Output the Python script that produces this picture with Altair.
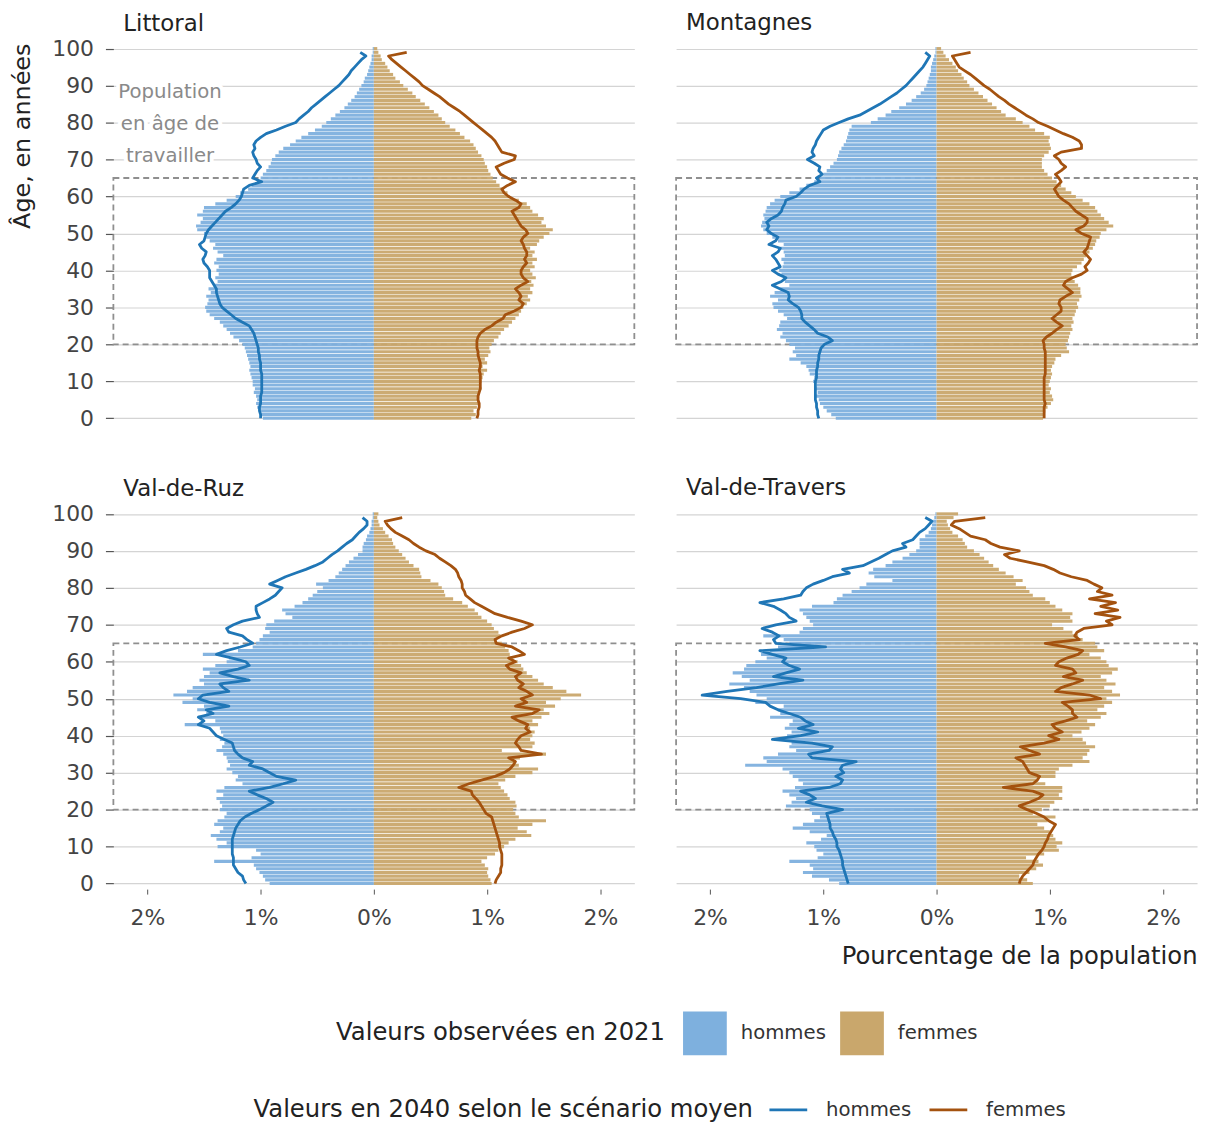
import altair as alt
import pandas as pd

FONT = "DejaVu Sans"

AGES = list(range(0, 101))
LINE_AGES = list(range(0, 100))
SEXES = ["hommes", "femmes"]
SEXES_2040 = ["hommes 2040", "femmes 2040"]
BAR_COLORS = ["#7eb0de", "#c9a76c"]
LINE_COLORS = ["#1f76b6", "#a4520f"]
WORK_AGE = [20, 65]
X_TICKS = [-2, -1, 0, 1, 2]
Y_TICKS = list(range(0, 101, 10))
X_DOMAIN = [-2.3, 2.3]
Y_DOMAIN = [-1.5, 101.5]
ANNOT_LINES = ["Population", "en âge de", "travailler"]
ANNOT_AGES = [88.2, 79.6, 71.0]
ANNOT_X = [-1.8, -1.8, -1.8]

# values in hundredths of a percent, ages 0..100 (bars) and 0..99 (lines)
LIT_M21 = [98, 100, 101, 103, 104, 103, 104, 106, 105, 107,
           107, 108, 109, 110, 109, 110, 111, 112, 113, 114,
           116, 119, 124, 127, 130, 133, 136, 141, 145, 148,
           149, 147, 146, 148, 144, 146, 141, 138, 140, 137,
           139, 137, 141, 139, 133, 138, 142, 140, 145, 148,
           150, 156, 157, 153, 151, 156, 151, 150, 140, 130,
           122, 118, 111, 108, 103, 100, 98, 95, 93, 91,
           90, 87, 84, 80, 74, 69, 64, 58, 52, 46,
           42, 38, 34, 30, 26, 23, 20, 17, 15, 13,
           11, 9, 8, 6, 5, 4, 3, 2, 2, 1, 1]
LIT_F21 = [86, 90, 88, 91, 92, 92, 93, 93, 95, 94,
           95, 96, 97, 100, 96, 100, 98, 101, 103, 102,
           104, 106, 110, 112, 115, 119, 122, 125, 128, 130,
           132, 135, 138, 136, 140, 138, 141, 139, 143, 140,
           138, 142, 140, 144, 140, 142, 138, 144, 146, 150,
           155, 158, 152, 148, 150, 145, 140, 138, 135, 128,
           120, 118, 115, 111, 108, 105, 103, 101, 100, 98,
           97, 95, 92, 90, 88, 85, 80, 76, 72, 67,
           63, 60, 57, 53, 49, 45, 41, 37, 34, 30,
           26, 23, 19, 17, 14, 12, 10, 7, 6, 4, 3]
LIT_M40 = [100, 100, 101, 101, 100, 100, 100, 99, 99, 99,
           99, 99, 99, 100, 100, 100, 101, 101, 102, 102,
           103, 104, 105, 106, 108, 110, 116, 122, 126, 130,
           134, 136, 137, 138, 139, 139, 141, 143, 145, 145,
           145, 147, 150, 151, 149, 148, 152, 154, 150, 149,
           148, 146, 143, 140, 137, 134, 131, 126, 122, 119,
           117, 116, 115, 110, 99, 107, 105, 103, 100, 103,
           104, 106, 107, 105, 106, 104, 100, 95, 86, 78,
           69, 66, 62, 58, 55, 51, 47, 43, 39, 35,
           31, 28, 25, 22, 20, 17, 14, 11, 7, 12]
LIT_F40 = [91, 92, 92, 93, 93, 92, 92, 93, 94, 94,
           94, 94, 94, 93, 94, 94, 93, 92, 92, 91,
           91, 91, 92, 94, 98, 104, 108, 114, 116, 124,
           130, 132, 128, 130, 128, 125, 130, 136, 132, 130,
           130, 132, 135, 133, 135, 135, 133, 132, 130, 132,
           136, 134, 130, 128, 126, 124, 122, 128, 130, 125,
           119, 115, 113, 118, 125, 118, 112, 110, 108, 115,
           124, 125, 113, 111, 109, 107, 104, 100, 96, 92,
           88, 84, 80, 76, 71, 66, 62, 58, 53, 48,
           43, 40, 36, 32, 28, 24, 20, 16, 13, 29]

MON_M21 = [89, 93, 97, 100, 103, 104, 107, 105, 107, 106,
           109, 108, 112, 113, 115, 120, 130, 124, 127, 125,
           130, 133, 138, 136, 141, 139, 138, 132, 135, 140,
           144, 145, 140, 147, 143, 138, 130, 134, 133, 137,
           139, 136, 135, 137, 134, 135, 138, 135, 140, 145,
           150, 153, 155, 154, 152, 153, 151, 150, 147, 143,
           138, 130, 121, 115, 108, 103, 100, 97, 94, 91,
           88, 87, 86, 84, 82, 80, 79, 78, 77, 75,
           58, 52, 45, 40, 33, 27, 22, 18, 14, 11,
           9, 8, 7, 6, 5, 5, 4, 3, 2, 1, 1]
MON_F21 = [94, 95, 96, 98, 101, 103, 102, 100, 101, 99,
           100, 101, 102, 101, 102, 104, 105, 110, 117, 115,
           114, 116, 117, 118, 120, 119, 121, 120, 122, 123,
           125, 124, 126, 128, 127, 127, 125, 122, 120, 119,
           120, 124, 128, 130, 132, 135, 138, 140, 141, 144,
           145, 150, 156, 152, 148, 145, 142, 140, 135, 129,
           123, 119, 114, 110, 106, 102, 98, 95, 93, 93,
           93, 95, 99, 101, 100, 99, 100, 95, 87, 82,
           76, 70, 61, 57, 53, 49, 45, 41, 37, 33,
           29, 27, 24, 22, 19, 17, 14, 11, 8, 6, 4]
MON_M40 = [104, 105, 105, 106, 106, 107, 107, 107, 107, 107,
           107, 106, 106, 106, 105, 105, 104, 104, 103, 102,
           99, 92, 96, 105, 108, 112, 116, 119, 119, 120,
           122, 127, 131, 130, 131, 138, 145, 137, 133, 140,
           145, 138, 140, 142, 145, 140, 138, 148, 142, 140,
           146, 150, 148, 150, 146, 140, 137, 136, 134, 133,
           124, 120, 117, 112, 103, 106, 101, 104, 103, 108,
           114, 108, 110, 109, 107, 106, 104, 102, 100, 94,
           86, 78, 68, 62, 56, 50, 45, 40, 35, 31,
           27, 24, 21, 18, 15, 12, 10, 8, 6, 10]
MON_F40 = [95, 95, 95, 95, 96, 95, 95, 95, 95, 95,
           95, 95, 96, 96, 96, 96, 96, 96, 96, 95,
           95, 94, 97, 102, 106, 111, 106, 102, 106, 110,
           110, 108, 109, 114, 120, 116, 112, 114, 120, 128,
           133, 131, 134, 136, 133, 130, 133, 134, 135, 136,
           128, 123, 130, 133, 133, 128, 123, 120, 117, 112,
           108, 106, 104, 107, 110, 108, 105, 110, 114, 110,
           108, 104, 110, 128, 128, 126, 120, 112, 105, 98,
           90, 85, 79, 74, 69, 64, 60, 55, 51, 47,
           42, 38, 34, 30, 25, 20, 18, 16, 14, 30]

VDR_M21 = [92, 96, 98, 101, 104, 106, 141, 108, 100, 104,
           138, 130, 139, 144, 136, 133, 141, 138, 132, 130,
           136, 134, 136, 139, 133, 139, 132, 116, 122, 120,
           125, 130, 127, 129, 130, 133, 139, 134, 132, 136,
           133, 135, 136, 167, 140, 155, 148, 156, 150, 169,
           160, 177, 165, 160, 150, 154, 150, 145, 151, 140,
           130, 128, 151, 120, 107, 104, 101, 98, 92, 96,
           95, 88, 72, 78, 81, 70, 63, 58, 54, 50,
           45, 51, 40, 34, 31, 28, 25, 22, 18, 14,
           10, 10, 9, 7, 6, 4, 3, 2, 2, 1, 1]
VDR_F21 = [104, 103, 101, 100, 101, 98, 95, 100, 107, 110,
           115, 119, 125, 139, 135, 127, 140, 152, 128, 125,
           123, 126, 125, 120, 118, 115, 112, 110, 116, 125,
           140, 145, 128, 125, 129, 152, 113, 140, 142, 138,
           140, 142, 138, 145, 140, 148, 155, 150, 160, 152,
           165, 183, 170, 158, 150, 145, 140, 135, 132, 130,
           127, 123, 120, 119, 116, 113, 107, 112, 110, 106,
           104, 100, 95, 92, 89, 83, 78, 70, 63, 62,
           60, 57, 50, 42, 41, 40, 35, 31, 28, 25,
           22, 19, 17, 16, 13, 10, 8, 5, 4, 3, 4]
VDR_M40 = [113, 115, 116, 120, 122, 124, 124, 124, 125, 125,
           125, 125, 125, 124, 123, 122, 120, 118, 114, 108,
           101, 95, 89, 95, 103, 110, 92, 80, 69, 86,
           92, 98, 110, 107, 116, 120, 123, 124, 125, 132,
           139, 142, 145, 155, 150, 155, 142, 148, 128, 145,
           155, 151, 128, 133, 136, 110, 124, 136, 120, 110,
           113, 125, 139, 130, 118, 107, 112, 116, 128, 130,
           124, 116, 101, 103, 104, 104, 98, 92, 87, 84,
           81, 92, 85, 78, 69, 60, 52, 45, 41, 37,
           32, 28, 24, 19, 16, 13, 9, 6, 6, 10]
VDR_F40 = [107, 108, 110, 112, 112, 113, 113, 113, 113, 112,
           111, 111, 110, 109, 108, 107, 106, 105, 104, 99,
           97, 95, 93, 90, 87, 86, 75, 84, 95, 107,
           115, 120, 123, 125, 119, 148, 130, 128, 125, 127,
           130, 138, 134, 136, 128, 122, 140, 146, 125, 135,
           130, 140, 135, 128, 132, 127, 125, 130, 120, 117,
           125, 119, 133, 128, 122, 108, 107, 113, 122, 133,
           140, 130, 118, 107, 101, 95, 89, 85, 81, 80,
           78, 78, 77, 75, 74, 72, 68, 63, 58, 54,
           46, 40, 35, 31, 25, 19, 15, 12, 10, 25]

VDT_M21 = [86, 95, 110, 118, 109, 112, 130, 105, 100, 106,
           108, 115, 102, 97, 112, 127, 118, 108, 103, 110,
           112, 133, 128, 124, 130, 136, 125, 118, 122, 127,
           130, 136, 169, 150, 153, 140, 124, 130, 128, 136,
           132, 128, 134, 130, 127, 147, 138, 140, 135, 160,
           150, 159, 165, 170, 183, 165, 172, 180, 170, 168,
           160, 150, 155, 147, 140, 130, 135, 153, 121, 118,
           109, 112, 115, 118, 121, 110, 91, 88, 83, 75,
           68, 62, 39, 55, 60, 56, 45, 39, 30, 24,
           18, 15, 15, 15, 10, 7, 5, 4, 3, 2, 1]
VDT_F21 = [85, 80, 73, 82, 88, 94, 90, 79, 95, 108,
           106, 111, 105, 103, 100, 95, 89, 98, 105, 85,
           93, 100, 104, 111, 108, 111, 111, 96, 89, 105,
           105, 108, 120, 135, 129, 133, 135, 140, 132, 129,
           120, 128, 135, 140, 133, 145, 150, 142, 148, 155,
           150, 162, 155, 148, 158, 150, 145, 155, 160, 152,
           150, 145, 135, 148, 142, 140, 129, 125, 120, 112,
           102, 120, 118, 120, 111, 105, 100, 96, 85, 82,
           79, 70, 76, 68, 61, 55, 50, 46, 42, 38,
           33, 27, 25, 23, 19, 14, 12, 10, 9, 15, 19]
VDT_M40 = [78, 79, 80, 81, 82, 83, 83, 84, 85, 86,
           88, 88, 89, 91, 92, 94, 94, 95, 96, 97,
           83, 101, 115, 107, 112, 120, 95, 85, 83, 89,
           82, 85, 83, 71, 110, 113, 95, 92, 110, 145,
           120, 105, 122, 109, 116, 120, 130, 140, 147, 151,
           173, 207, 185, 159, 140, 118, 144, 133, 121, 130,
           136, 133, 145, 156, 98, 142, 144, 139, 145, 154,
           142, 124, 130, 133, 138, 144, 156, 135, 120, 118,
           115, 109, 100, 92, 77, 83, 65, 58, 51, 45,
           39, 27, 30, 21, 18, 15, 10, 7, 4, 10]
VDT_F40 = [73, 74, 76, 79, 82, 85, 86, 88, 90, 93,
           95, 96, 98, 99, 101, 103, 105, 99, 95, 88,
           80, 73, 82, 90, 94, 85, 59, 85, 89, 91,
           82, 80, 78, 76, 70, 91, 82, 74, 95, 108,
           99, 111, 105, 102, 114, 124, 120, 120, 116, 111,
           145, 135, 105, 110, 120, 129, 112, 123, 120, 105,
           108, 115, 125, 129, 114, 96, 126, 122, 124, 130,
           155, 150, 162, 140, 160, 145, 158, 135, 155, 142,
           146, 139, 133, 119, 109, 103, 95, 80, 65, 60,
           73, 56, 48, 43, 30, 25, 20, 13, 16, 43]

for arr in [LIT_M21, LIT_F21, MON_M21, MON_F21, VDR_M21, VDR_F21, VDT_M21, VDT_F21]:
    assert len(arr) == len(AGES), len(arr)
for arr in [LIT_M40, LIT_F40, MON_M40, MON_F40, VDR_M40, VDR_F40, VDT_M40, VDT_F40]:
    assert len(arr) == len(LINE_AGES), len(arr)

W = 524
H = 383

xscale = alt.Scale(domain=X_DOMAIN, nice=False, zero=False)
yscale = alt.Scale(domain=Y_DOMAIN, nice=False, zero=False)

fill_legend = alt.Legend(
    title="Valeurs observées en 2021", orient="none", legendX=224, legendY=974,
    direction="horizontal", titleOrient="left", titleAnchor="middle", titleBaseline="middle",
    titleLimit=1000, labelLimit=300,
    symbolType="square", symbolSize=1936, symbolStrokeWidth=0, symbolOpacity=1,
    labelFontSize=19.8, titleFontSize=24.4, titleFontWeight="normal",
    labelColor="#333", titleColor="#222", columnPadding=14, labelOffset=14, titlePadding=18,
)
stroke_legend = alt.Legend(
    title="Valeurs en 2040 selon le scénario moyen", orient="none", legendX=141, legendY=1063,
    direction="horizontal", titleOrient="left", titleAnchor="middle", titleBaseline="middle",
    titleLimit=1000, labelLimit=300, labelExpr="split(datum.label, ' ')[0]",
    symbolType="M-3.8,0H3.8", symbolSize=100, symbolStrokeWidth=3,
    labelFontSize=19.8, titleFontSize=24.4, titleFontWeight="normal",
    labelColor="#333", titleColor="#222", columnPadding=11, labelOffset=28, titlePadding=25,
)


def make_panel(name, m21, f21, m40, f40, ylab, xlab, ytitle=None, xtitle=None, annot=False):
    bars = pd.DataFrame({
        "age": AGES + AGES,
        "obs21": [SEXES[0]] * len(AGES) + [SEXES[1]] * len(AGES),
        "pct": [-v / 100 for v in m21] + [v / 100 for v in f21],
    })
    lines = pd.DataFrame({
        "age": LINE_AGES + LINE_AGES,
        "proj40": [SEXES_2040[0]] * len(LINE_AGES) + [SEXES_2040[1]] * len(LINE_AGES),
        "pct": [-v / 100 for v in m40] + [v / 100 for v in f40],
    })

    if ylab:
        ykw = dict(values=Y_TICKS, grid=True, domain=False, tickSize=8, tickColor="#555",
                   tickWidth=1.2, labelPadding=12, labelFontSize=22, labelColor="#444")
        if ytitle:
            yaxis = alt.Axis(title=ytitle, titleAnchor="end", titleFontSize=24, titlePadding=17,
                             titleFontWeight="normal", titleColor="#222", **ykw)
        else:
            yaxis = alt.Axis(title=None, **ykw)
    else:
        yaxis = alt.Axis(values=Y_TICKS, grid=True, labels=False, ticks=False, domain=False, title=None)

    if xlab:
        xkw = dict(values=X_TICKS, grid=False, domain=False, tickSize=5, tickColor="#555",
                   labelExpr="abs(datum.value) + '%'", labelPadding=14, labelFontSize=22,
                   labelColor="#444")
        if xtitle:
            xaxis = alt.Axis(title=xtitle, titleAnchor="end", titleFontSize=24.4, titlePadding=16,
                             titleFontWeight="normal", titleColor="#222", **xkw)
        else:
            xaxis = alt.Axis(title=None, **xkw)
        X = lambda f: alt.X(f, scale=xscale, axis=xaxis)
    else:
        X = lambda f: alt.X(f, scale=xscale, axis=None)

    work = pd.DataFrame({"lo": [WORK_AGE[0]], "hi": [WORK_AGE[1]]})
    rect_layer = alt.Chart(work).mark_rect(
        fillOpacity=0, stroke="#8f8f8f", strokeDash=[6, 4], strokeWidth=1.8
    ).encode(
        x=alt.value(0), x2=alt.value(W),
        y=alt.Y("lo:Q", scale=yscale, axis=yaxis), y2=alt.Y2("hi"),
    )

    bar_layer = alt.Chart(bars).transform_calculate(
        lo="datum.age - 0.42", hi="datum.age + 0.42", zero="0"
    ).mark_rect(opacity=0.95).encode(
        x=X("pct:Q"), x2=alt.X2("zero"),
        y=alt.Y("lo:Q", scale=yscale, axis=yaxis), y2=alt.Y2("hi"),
        fill=alt.Fill("obs21:N", scale=alt.Scale(domain=SEXES, range=BAR_COLORS), legend=fill_legend),
    )

    line_layer = alt.Chart(lines).mark_line(strokeWidth=2.8, strokeJoin="round").encode(
        x=X("pct:Q"),
        y=alt.Y("age:Q", scale=yscale, axis=yaxis),
        stroke=alt.Stroke("proj40:N", scale=alt.Scale(domain=SEXES_2040, range=LINE_COLORS),
                          legend=stroke_legend),
        order=alt.Order("age:Q"),
    )

    layers = [rect_layer, bar_layer, line_layer]
    if annot:
        ann = pd.DataFrame({"label": ANNOT_LINES, "age": ANNOT_AGES, "x": ANNOT_X})
        halo = alt.Chart(ann).mark_text(
            font=FONT, fontSize=19.8, color="white", stroke="white", strokeWidth=8, strokeJoin="round"
        ).encode(x=X("x:Q"), y=alt.Y("age:Q", scale=yscale, axis=yaxis), text="label:N")
        txt = alt.Chart(ann).mark_text(font=FONT, fontSize=19.8, color="#8a8a8a").encode(
            x=X("x:Q"), y=alt.Y("age:Q", scale=yscale, axis=yaxis), text="label:N")
        layers += [halo, txt]

    return alt.layer(*layers).properties(
        width=W, height=H,
        title=alt.TitleParams(name, anchor="start", fontSize=23, font=FONT, fontWeight="normal",
                              color="#222", dx=10, offset=2 if ylab else 8, frame="group"),
    )


p1 = make_panel("Littoral", LIT_M21, LIT_F21, LIT_M40, LIT_F40, True, False,
                ytitle="Âge, en années", annot=True)
p2 = make_panel("Montagnes", MON_M21, MON_F21, MON_M40, MON_F40, False, False)
p3 = make_panel("Val-de-Ruz", VDR_M21, VDR_F21, VDR_M40, VDR_F40, True, True)
p4 = make_panel("Val-de-Travers", VDT_M21, VDT_F21, VDT_M40, VDT_F40, False, True,
                xtitle="Pourcentage de la population")

chart = alt.concat(p1, p2, p3, p4, columns=2, spacing={"row": 48, "column": 40}).resolve_scale(
    fill="shared", stroke="shared"
).properties(
    padding={"left": 3, "top": 1, "right": 5, "bottom": 0}
).configure_view(stroke=None).configure_axis(
    gridColor="#d4d4d4", gridWidth=1.2, labelFont=FONT, titleFont=FONT
).configure_legend(labelFont=FONT, titleFont=FONT).configure_title(font=FONT)

chart.save("out.html", embed_options={"renderer": "svg", "actions": False})
